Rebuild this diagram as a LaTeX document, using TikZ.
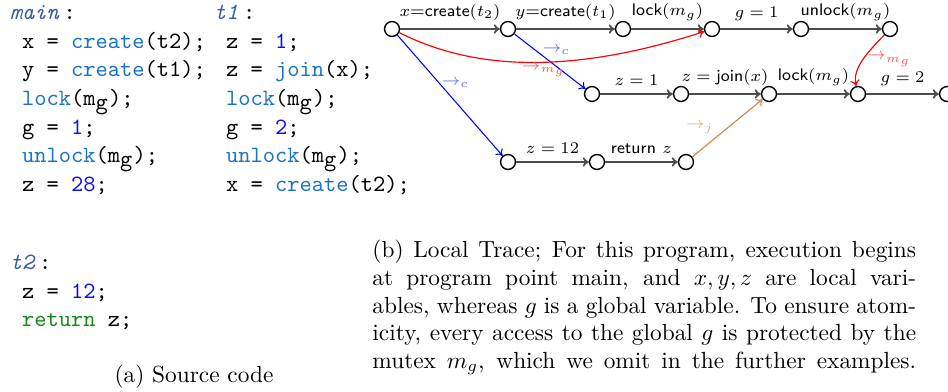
\documentclass[tikz,border=0pt]{standalone}
\usetikzlibrary{arrows.meta}
\definecolor{lblc}{RGB}{55,95,160}
\definecolor{kwc}{RGB}{25,115,200}
\definecolor{numc}{RGB}{15,15,235}
\definecolor{retc}{RGB}{20,140,20}
\definecolor{tanc}{RGB}{205,140,85}
\definecolor{tanl}{RGB}{228,172,122}
\newcommand{\lbl}[1]{\textcolor{lblc}{\itshape #1}\kern2pt}
\newcommand{\kw}[1]{\textcolor{kwc}{#1}}
\newcommand{\cn}[1]{\textcolor{numc}{#1}}
\newcommand{\mgc}{m$_{\texttt{g}}$}
\tikzset{
  code/.style={anchor=base west, inner sep=0pt, font=\ttfamily},
  capline/.style={anchor=base west, inner sep=0pt, font=\fontsize{10}{12}\selectfont},
  st/.style={circle, draw=black, line width=0.6pt, fill=white, inner sep=0pt, minimum size=6.4pt},
  tr/.style={-{To[length=2.6pt,width=4pt]}, draw=black!70, line width=0.75pt},
  lab/.style={font=\fontsize{7.2}{8.6}\selectfont, text=black},
  blu/.style={-{To[length=2.6pt,width=4pt]}, draw=blue, line width=0.45pt},
  rd/.style={-{To[length=2.6pt,width=4pt]}, draw=red, line width=0.5pt},
  tn/.style={-{To[length=2.6pt,width=4pt]}, draw=tanc, line width=0.5pt},
  clab/.style={font=\fontsize{7.2}{8.6}\selectfont, inner sep=0.8pt}
}
\begin{document}
\begin{tikzpicture}[x=0.42857pt, y=-0.42857pt]
\useasboundingbox (0,0) rectangle (948,392);
% ---------- source code ----------
\node[code] (m0) at (9.5,19.5) {\lbl{main}:};
\node[code] (m1) at (21.7,48.5) {x = \kw{create}(t2);};
\node[code] (m2) at (21.7,77) {y = \kw{create}(t1);};
\node[code] (m3) at (21.7,105.6) {\kw{lock}(\mgc);};
\node[code] (m4) at (21.7,134.2) {g = \cn{1};};
\node[code] (m5) at (21.7,162.7) {\kw{unlock}(\mgc);};
\node[code] (m6) at (21.7,191.3) {z = \cn{28};};
\node[code] (a0) at (213.5,19.5) {\lbl{t1}:};
\node[code] (a1) at (225.7,48.5) {z = \cn{1};};
\node[code] (a2) at (225.7,77) {z = \kw{join}(x);};
\node[code] (a3) at (225.7,105.6) {\kw{lock}(\mgc);};
\node[code] (a4) at (225.7,134.2) {g = \cn{2};};
\node[code] (a5) at (225.7,162.7) {\kw{unlock}(\mgc);};
\node[code] (a6) at (225.7,191.3) {x = \kw{create}(t2);};
\node[code] (b0) at (9.5,270) {\lbl{t2}:};
\node[code] (b1) at (21.7,298.5) {z = \cn{12};};
\node[code] (b2) at (21.7,327) {\textcolor{retc}{return} z;};
\node[anchor=base, inner sep=0pt, font=\fontsize{10}{12}\selectfont] (capa) at (194,383) {(a) Source code};
% ---------- caption b ----------
\node[capline] (cb1) at (372,258) {\makebox[233pt][s]{(b) Local Trace; For this program, execution begins}};
\node[capline] (cb2) at (372,285.6) {\makebox[233pt][s]{at program point main, and $x,y,z$ are local vari-}};
\node[capline] (cb3) at (372,313.2) {\makebox[233pt][s]{ables, whereas $g$ is a global variable. To ensure atom-}};
\node[capline] (cb4) at (372,340.8) {\makebox[233pt][s]{icity, every access to the global $g$ is protected by the}};
\node[capline] (cb5) at (372,368.4) {\makebox[233pt][s]{mutex $m_g$, which we omit in the further examples.}};
% ---------- trace graph ----------
\node[st] (p0) at (392,29) {};
\node[st] (p1) at (508,29) {};
\node[st] (p2) at (623,29) {};
\node[st] (p3) at (712,29) {};
\node[st] (p4) at (801,29) {};
\node[st] (p5) at (890,29) {};
\node[st] (q0) at (592,94) {};
\node[st] (q1) at (681,94) {};
\node[st] (q2) at (769,94) {};
\node[st] (q3) at (858,94) {};
\node[st] (q4) at (947,94) {};
\node[st] (r0) at (508,162) {};
\node[st] (r1) at (597,162) {};
\node[st] (r2) at (686,162) {};
\draw[tr] (p0) -- node[lab, above] {$x$=\textsf{create}$(t_2)$} (p1);
\draw[tr] (p1) -- node[lab, above] {$y$=\textsf{create}$(t_1)$} (p2);
\draw[tr] (p2) -- node[lab, above] {\textsf{lock}$(m_g)$} (p3);
\draw[tr] (p3) -- node[lab, above] {$g=1$} (p4);
\draw[tr] (p4) -- node[lab, above] {\textsf{unlock}$(m_g)$} (p5);
\draw[tr] (q0) -- node[lab, above] {$z=1$} (q1);
\draw[tr] (q1) -- node[lab, above] {$z=\textsf{join}(x)$} (q2);
\draw[tr] (q2) -- node[lab, above] {\textsf{lock}$(m_g)$} (q3);
\draw[tr] (q3) -- node[lab, above] {$g=2$} (q4);
\draw[tr] (r0) -- node[lab, above] {$z=12$} (r1);
\draw[tr] (r1) -- node[lab, above] {\textsf{return} $z$} (r2);
\draw[blu] (p0) -- node[clab, pos=0.4, anchor=west, text=blue!60] {$\rightarrow_c$} (r0);
\draw[blu] (p1) -- node[clab, pos=0.3, anchor=west, xshift=2pt, text=blue!60] {$\rightarrow_c$} (q0);
\draw[rd] (p0) .. controls (450,58) and (540,85) .. node[clab, pos=0.61, below, inner sep=0.5pt, text=red!65] {$\rightarrow_{m_g}$} (p3);
\draw[rd] (p5) .. controls (868,52) and (852,68) .. node[clab, pos=0.5, anchor=west, xshift=1pt, text=red!65] {$\rightarrow_{m_g}$} (q3);
\draw[tn] (r2) -- node[clab, pos=0.5, anchor=east, xshift=-5pt, text=tanl] {$\rightarrow_j$} (q2);
\end{tikzpicture}
\end{document}
